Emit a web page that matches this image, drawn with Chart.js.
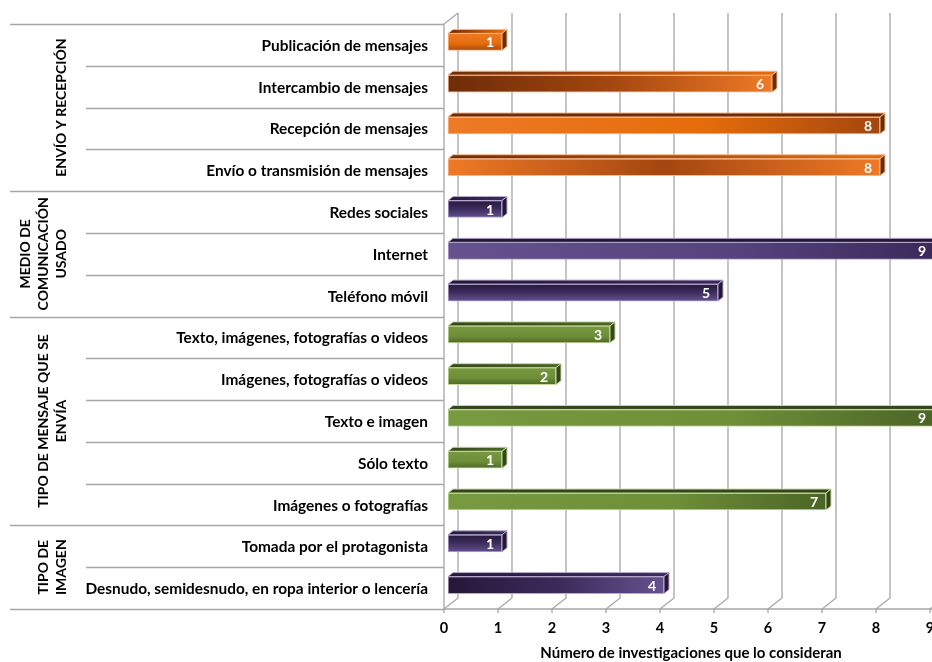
<!DOCTYPE html>
<html lang="es">
<head>
  <meta charset="UTF-8">
  <title>Número de investigaciones que lo consideran</title>
  <style>
    html, body { margin: 0; padding: 0; background: #fff; overflow: hidden; }
    .wrap { width: 940px; height: 662px; position: relative; }
  </style>
  <script src="https://cdn.jsdelivr.net/npm/chart.js"></script>
</head>
<body>
  <div class="wrap"><canvas id="chart"></canvas></div>

  <script>
    const categories = [
      'Publicación de mensajes',
      'Intercambio de mensajes',
      'Recepción de mensajes',
      'Envío o transmisión de mensajes',
      'Redes sociales',
      'Internet',
      'Teléfono móvil',
      'Texto, imágenes, fotografías o videos',
      'Imágenes, fotografías o videos',
      'Texto e imagen',
      'Sólo texto',
      'Imágenes o fotografías',
      'Tomada por el protagonista',
      'Desnudo, semidesnudo, en ropa interior o lencería'
    ];
    const values = [1, 6, 8, 8, 1, 9, 5, 3, 2, 9, 1, 7, 1, 4];
    const xTicks = [0, 1, 2, 3, 4, 5, 6, 7, 8, 9];

    // group labels (rotated, left side) and the rows they cover
    const groupLabels = [['ENVÍO Y RECEPCIÓN'], ['MEDIO DE', 'COMUNICACIÓN', 'USADO'], ['TIPO DE MENSAJE QUE SE', 'ENVÍA'], ['TIPO DE', 'IMAGEN']];
    const groupStart = [0, 4, 7, 12];
    const groupEnd = [4, 7, 12, 14];

    // styling
    const palettes = [
      { face: '#E46C0A', light: '#EE7A26', dark: '#A4460F', darker: '#6E2C08', border: '#F8B98C' },
      { face: '#56427D', light: '#65528E', dark: '#3A2A5A', darker: '#241839', border: '#B7A8CE' },
      { face: '#6E8E38', light: '#789A40', dark: '#4B6526', darker: '#34461A', border: '#C4D99C' },
      { face: '#56427D', light: '#65528E', dark: '#3A2A5A', darker: '#241839', border: '#B7A8CE' }
    ];
    const barShade = ['flat', 'darkLeft', 'darkRight', 'darkMid', 'darkTop', 'darkRight', 'darkTop',
                      'flat', 'flat', 'darkRight', 'flat', 'darkRight', 'darkTop', 'darkLeft'];
    const FONT = 'Lato, "Open Sans", sans-serif';

    function groupOf(i) {
      return groupStart.findIndex((s, g) => i >= s && i < groupEnd[g]);
    }

    function barFill(context) {
      const chart = context.chart;
      const i = context.dataIndex;
      const p = palettes[groupOf(i)];
      const xs = chart.scales.x, ys = chart.scales.y;
      if (!chart.chartArea || !xs || !ys) return p.face;
      const x0 = xs.getPixelForValue(0), x1 = xs.getPixelForValue(values[i]);
      const yc = ys.getPixelForValue(i);
      const ctx = chart.ctx;
      let g;
      switch (barShade[i]) {
        case 'darkLeft':
          g = ctx.createLinearGradient(x0, 0, x1, 0);
          g.addColorStop(0, p.darker); g.addColorStop(0.5, p.dark); g.addColorStop(1, p.light);
          break;
        case 'darkRight':
          g = ctx.createLinearGradient(x0, 0, x1, 0);
          g.addColorStop(0, p.light); g.addColorStop(0.6, p.face); g.addColorStop(1, p.dark);
          break;
        case 'darkMid':
          g = ctx.createLinearGradient(x0, 0, x1, 0);
          g.addColorStop(0, p.light); g.addColorStop(0.5, p.dark); g.addColorStop(1, p.light);
          break;
        case 'darkTop':
          g = ctx.createLinearGradient(0, yc - 9, 0, yc + 9);
          g.addColorStop(0, p.darker); g.addColorStop(0.45, p.dark); g.addColorStop(1, p.light);
          break;
        default:
          g = ctx.createLinearGradient(0, yc - 9, 0, yc + 9);
          g.addColorStop(0, p.light); g.addColorStop(0.6, p.face); g.addColorStop(1, p.dark);
      }
      return g;
    }

    // back wall, floor, row separators and group labels
    const frame = {
      id: 'frame',
      beforeDatasetsDraw(chart) {
        const { ctx, chartArea: a, scales: { x } } = chart;
        const rowH = (a.bottom - a.top) / categories.length;
        const top = a.top + 3, bottom = a.bottom + 3;
        const front = v => x.getPixelForValue(v) - 4;
        ctx.save();
        ctx.strokeStyle = '#A6A6A6';
        ctx.lineWidth = 1.3;
        xTicks.forEach(v => {
          const fx = front(v), bx = fx + 14;
          ctx.beginPath();
          ctx.moveTo(bx, top - 11);
          ctx.lineTo(bx, bottom - 11);
          ctx.lineTo(fx, bottom);
          ctx.lineTo(fx, bottom + 4);
          ctx.stroke();
        });
        ctx.beginPath();
        ctx.moveTo(front(0) + 14, top - 11);
        ctx.lineTo(front(0), top);
        ctx.lineTo(front(0), bottom);
        ctx.lineTo(chart.width, bottom);
        ctx.stroke();

        for (let i = 0; i <= categories.length; i++) {
          const yy = Math.round(top + i * rowH) + 0.5;
          const edge = groupStart.includes(i) || i === categories.length;
          ctx.beginPath();
          ctx.moveTo(edge ? 10 : 86, yy);
          ctx.lineTo(front(0), yy);
          ctx.stroke();
        }

        ctx.fillStyle = '#000';
        ctx.font = 'bold 14px ' + FONT;
        ctx.textAlign = 'center';
        ctx.textBaseline = 'middle';
        groupLabels.forEach((lines, g) => {
          const cy = top + (groupStart[g] + groupEnd[g]) / 2 * rowH;
          lines.forEach((line, k) => {
            const lx = 61 - (lines.length - 1 - k) * 18;
            ctx.save();
            ctx.translate(lx, cy);
            ctx.rotate(-Math.PI / 2);
            ctx.fillText(line, 0, 0);
            ctx.restore();
          });
        });
        ctx.restore();
      }
    };

    // 3D top and side faces, value labels
    const bars3d = {
      id: 'bars3d',
      afterDatasetsDraw(chart) {
        const ctx = chart.ctx;
        const meta = chart.getDatasetMeta(0);
        const dx = 5, dy = 4;
        ctx.save();
        meta.data.forEach((bar, i) => {
          const { x: ex, y: cy, base, height } = bar.getProps(['x', 'y', 'base', 'height'], true);
          const p = palettes[groupOf(i)];
          const t = cy - height / 2, b = cy + height / 2;
          ctx.lineWidth = 1;
          ctx.strokeStyle = p.border;
          // top
          const tg = ctx.createLinearGradient(base, 0, ex, 0);
          tg.addColorStop(0, p.darker); tg.addColorStop(1, groupOf(i) === 0 ? p.face : p.dark);
          ctx.fillStyle = barShade[i] === 'darkRight' ? p.darker : tg;
          ctx.beginPath();
          ctx.moveTo(base, t); ctx.lineTo(base + dx, t - dy); ctx.lineTo(ex + dx, t - dy); ctx.lineTo(ex, t);
          ctx.closePath(); ctx.fill(); ctx.stroke();
          // side
          ctx.fillStyle = p.darker;
          ctx.beginPath();
          ctx.moveTo(ex, t); ctx.lineTo(ex + dx, t - dy); ctx.lineTo(ex + dx, b - dy); ctx.lineTo(ex, b);
          ctx.closePath(); ctx.fill(); ctx.stroke();
          // value
          ctx.fillStyle = '#fff';
          ctx.font = 'bold 14px ' + FONT;
          ctx.textAlign = 'right';
          ctx.textBaseline = 'middle';
          ctx.fillText(String(values[i]), ex - 8, cy + 1);
        });
        ctx.restore();
      }
    };

    new Chart(document.getElementById('chart'), {
      type: 'bar',
      data: {
        labels: categories,
        datasets: [{
          data: values,
          backgroundColor: barFill,
          borderColor: ctx => palettes[groupOf(ctx.dataIndex)].border,
          borderWidth: 1,
          borderSkipped: false,
          barThickness: 17,
          clip: false
        }]
      },
      options: {
        indexAxis: 'y',
        responsive: true,
        maintainAspectRatio: false,
        animation: false,
        layout: { padding: { top: 21, right: 6, bottom: 0, left: 0 } },
        plugins: { legend: { display: false }, tooltip: { enabled: false } },
        scales: {
          x: {
            min: 0, max: 9,
            afterFit: s => { s.height = 56; s.paddingLeft = 0; s.paddingRight = 0; },
            afterBuildTicks: s => { s.ticks = xTicks.map(v => ({ value: v })); },
            grid: { display: false, drawTicks: false },
            border: { display: false },
            ticks: { color: '#000', font: { family: FONT, weight: 'bold', size: 14.5 }, padding: 14, labelOffset: -4, maxRotation: 0 },
            title: {
              display: true,
              text: 'Número de investigaciones que lo consideran',
              color: '#000',
              font: { family: FONT, weight: 'bold', size: 15 },
              padding: { top: 0, bottom: 0 }
            }
          },
          y: {
            afterFit: s => { s.width = 448; s.paddingTop = 0; s.paddingBottom = 0; },
            grid: { display: false, drawTicks: false },
            border: { display: false },
            ticks: { color: '#000', font: { family: FONT, weight: 'bold', size: 15.4 }, padding: 20, labelOffset: 4, autoSkip: false }
          }
        }
      },
      plugins: [frame, bars3d]
    });
  </script>
</body>
</html>
